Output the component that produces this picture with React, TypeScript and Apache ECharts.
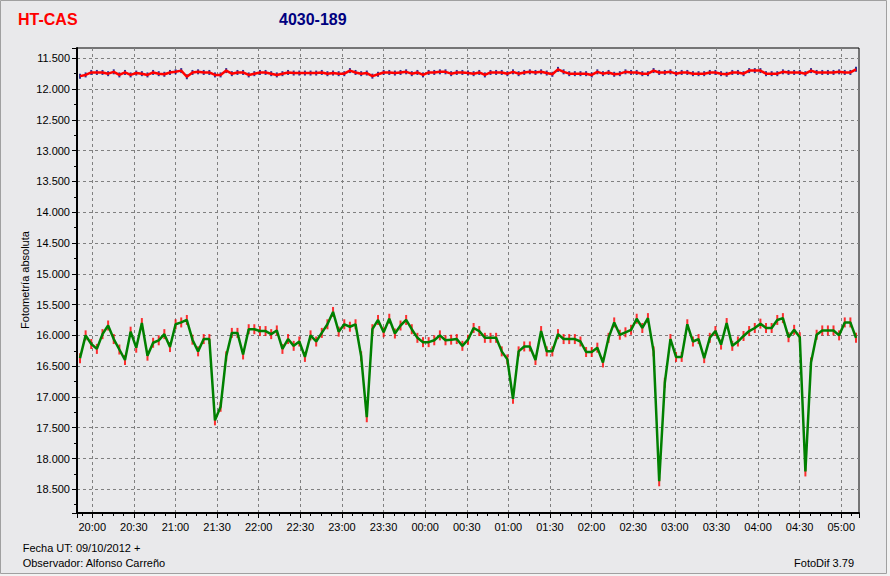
import React, { useEffect, useRef } from "react";
import * as echarts from "echarts";

// Comparison star (upper, red line with navy points) – magnitudes
const comparison: number[] = [
  11.79, 11.77, 11.73, 11.73, 11.73, 11.75, 11.72, 11.77, 11.73, 11.77,
  11.74, 11.75, 11.77, 11.73, 11.75, 11.76, 11.73, 11.72, 11.70, 11.80,
  11.73, 11.72, 11.73, 11.73, 11.77, 11.77, 11.70, 11.75, 11.73, 11.73,
  11.77, 11.75, 11.73, 11.73, 11.75, 11.77, 11.75, 11.73, 11.74, 11.74,
  11.74, 11.74, 11.74, 11.73, 11.75, 11.74, 11.75, 11.75, 11.70, 11.73,
  11.75,
  11.74, 11.79, 11.76, 11.73, 11.73, 11.74, 11.73, 11.72, 11.75, 11.73,
  11.77, 11.73, 11.73, 11.72, 11.72, 11.75, 11.73, 11.73, 11.74,
  11.75, 11.73, 11.77, 11.73, 11.73, 11.73, 11.75, 11.72, 11.75, 11.73,
  11.72, 11.73, 11.72, 11.74, 11.76, 11.68, 11.72, 11.75, 11.75, 11.75,
  11.75, 11.77, 11.72, 11.75, 11.73, 11.76, 11.75, 11.72, 11.73, 11.73,
  11.75, 11.75, 11.70, 11.73, 11.73, 11.72, 11.75, 11.73, 11.73, 11.75,
  11.75, 11.75, 11.73, 11.73, 11.75, 11.76, 11.73, 11.73, 11.75, 11.70,
  11.70, 11.70, 11.75, 11.75, 11.75, 11.72, 11.73, 11.73, 11.73, 11.75,
  11.70, 11.73, 11.73, 11.73, 11.73, 11.72, 11.73, 11.73, 11.68,
];

// Variable star HT-CAS (lower, green line with red error bars) – magnitudes
const variable: number[] = [
  16.37, 16.00, 16.14, 16.22, 15.98, 15.84, 16.06, 16.23, 16.40, 15.94,
  16.20, 15.80, 16.33, 16.12, 16.08, 15.98, 16.19, 15.82, 15.79, 15.75,
  16.07, 16.26, 16.06, 16.06, 17.38, 17.16, 16.34, 15.96, 15.96, 16.31,
  15.90, 15.90, 15.93, 15.93, 15.98, 15.92, 16.22, 16.06, 16.17, 16.10,
  16.35, 16.00, 16.10, 15.96, 15.82, 15.62, 15.94, 15.82, 15.86, 15.82,
  16.34,
  17.33, 15.90, 15.75, 15.95, 15.73, 15.97, 15.84, 15.75, 15.90, 16.04,
  16.11, 16.11, 16.08, 16.00, 16.08, 16.07, 16.06, 16.17, 16.07, 15.88,
  15.93, 16.04, 16.04, 16.04, 16.26, 16.39, 17.03, 16.26, 16.18, 16.18,
  16.40, 15.93, 16.26, 16.26, 15.98, 16.06, 16.06, 16.06, 16.10, 16.27,
  16.27, 16.20,
  16.44, 16.04, 15.79, 15.99, 15.95, 15.91, 15.73, 15.88, 15.72, 16.26,
  18.37, 16.77, 16.06, 16.35, 16.35, 15.82, 16.10, 16.06, 16.37, 16.04,
  15.93, 16.15, 15.80, 16.17, 16.10, 16.01, 15.93, 15.88, 15.81, 15.88,
  15.88, 15.75, 15.72, 16.03, 15.91, 16.03, 18.21, 16.44, 15.99, 15.92,
  15.92, 15.92, 16.00, 15.79, 15.79, 16.04,
];

const timeLabels: string[] = [
  "20:00", "20:30", "21:00", "21:30", "22:00", "22:30", "23:00", "23:30",
  "00:00", "00:30", "01:00", "01:30", "02:00", "02:30", "03:00", "03:30",
  "04:00", "04:30", "05:00",
];

const FONT = '"Liberation Sans", Arial, sans-serif';

export default function App() {
  const ref = useRef<HTMLDivElement>(null);

  useEffect(() => {
    if (!ref.current) return;
    const chart = echarts.init(ref.current, undefined, { renderer: "svg" });

    // axis extents (minutes relative to 20:00, magnitudes)
    const xMin = -11.0;
    const xMax = 552.8;
    const yMin = 11.333;
    const yMax = 18.885;

    const idx = variable.map((_, i) => String(i));

    const isMult = (v: number, step: number) =>
      Math.abs(v / step - Math.round(v / step)) < 1e-6;

    const dashed = { color: "#808080", width: 1, type: [3, 3] as number[] };

    const option: any = {
      animation: false,
      backgroundColor: "#f2f2f2",
      grid: [
        {
          left: 77, right: 31, top: 48, bottom: 63,
          show: true, backgroundColor: "#e9e9eb",
          borderColor: "#000", borderWidth: 1,
          outerBoundsMode: "none", containLabel: false,
        },
        {
          left: 80, right: 34, top: 48, bottom: 63,
          outerBoundsMode: "none", containLabel: false,
        },
      ],
      xAxis: [
        {
          gridIndex: 0, type: "value", position: "bottom",
          min: xMin, max: xMax, minInterval: 30, maxInterval: 30,
          axisLine: { show: true, onZero: false, lineStyle: { color: "#000", width: 2 } },
          axisTick: { show: true, length: 5, lineStyle: { color: "#000", width: 1 } },
          axisLabel: {
            show: true, margin: 8, color: "#000", fontFamily: FONT, fontSize: 11,
            showMinLabel: true, showMaxLabel: true, hideOverlap: false,
            formatter: (v: number) => {
              if (!isMult(v, 30)) return "";
              const k = Math.round(v / 30);
              return timeLabels[k] ?? "";
            },
          },
          splitLine: { show: true, showMinLine: false, showMaxLine: false, lineStyle: dashed },
        },
        {
          gridIndex: 0, type: "value", position: "bottom",
          min: xMin, max: xMax, minInterval: 7.5, maxInterval: 7.5,
          axisLine: { show: false, onZero: false },
          axisTick: { show: true, length: 3, lineStyle: { color: "#000", width: 1 } },
          axisLabel: { show: false },
          splitLine: { show: false },
        },
        {
          gridIndex: 1, type: "category", data: idx, boundaryGap: false, show: false,
        },
      ],
      yAxis: [
        {
          gridIndex: 0, type: "value", position: "left", inverse: true,
          min: yMin, max: yMax, minInterval: 0.5, maxInterval: 0.5,
          axisLine: { show: true, onZero: false, lineStyle: { color: "#000", width: 2 } },
          axisTick: { show: true, length: 5, lineStyle: { color: "#000", width: 1 } },
          axisLabel: {
            show: true, margin: 7, color: "#000", fontFamily: FONT, fontSize: 11,
            showMinLabel: true, showMaxLabel: true, hideOverlap: false,
            formatter: (v: number) => (isMult(v, 0.5) ? v.toFixed(3) : ""),
          },
          splitLine: { show: true, showMinLine: false, showMaxLine: false, lineStyle: dashed },
        },
        {
          gridIndex: 0, type: "value", position: "left", inverse: true,
          min: yMin, max: yMax, minInterval: 0.25, maxInterval: 0.25,
          axisLine: { show: false, onZero: false },
          axisTick: { show: true, length: 3, lineStyle: { color: "#000", width: 1 } },
          axisLabel: { show: false },
          splitLine: { show: false },
        },
        {
          gridIndex: 1, type: "value", inverse: true, min: yMin, max: yMax, show: false,
          splitLine: { show: false },
        },
      ],
      series: [
        {
          type: "scatter", xAxisIndex: 2, yAxisIndex: 2, data: variable,
          symbol: "rect", symbolSize: [2, 10], itemStyle: { color: "#ff0000" },
          z: 2, silent: true,
        },
        {
          type: "line", xAxisIndex: 2, yAxisIndex: 2, data: variable,
          showSymbol: false, symbol: "none",
          lineStyle: { color: "#008000", width: 2.5 }, z: 3, silent: true,
        },
        {
          type: "scatter", xAxisIndex: 2, yAxisIndex: 2, data: comparison,
          symbol: "rect", symbolSize: [2, 5], itemStyle: { color: "#000080" },
          z: 2, silent: true,
        },
        {
          type: "line", xAxisIndex: 2, yAxisIndex: 2, data: comparison,
          showSymbol: false, symbol: "none",
          lineStyle: { color: "#ff0000", width: 2.5 }, z: 3, silent: true,
        },
      ],
      graphic: [
        {
          type: "rect", z: -10, silent: true,
          shape: { x: 0.5, y: 0.5, width: 886, height: 573 },
          style: { fill: "#e9e9eb", stroke: "#a0a0a0", lineWidth: 1 },
        },
        {
          type: "text", x: 18, y: 19.5, silent: true,
          style: {
            text: "HT-CAS", fill: "#ff0000", font: `bold 16px ${FONT}`,
            align: "left", verticalAlign: "middle",
            textAlign: "left", textVerticalAlign: "middle",
          },
        },
        {
          type: "text", x: 279, y: 19.5, silent: true,
          style: {
            text: "4030-189", fill: "#000080", font: `bold 16px ${FONT}`,
            align: "left", verticalAlign: "middle",
            textAlign: "left", textVerticalAlign: "middle",
          },
        },
        {
          type: "text", x: 24.5, y: 280, rotation: Math.PI / 2, silent: true,
          style: {
            text: "Fotometría absoluta", fill: "#000", font: `11px ${FONT}`,
            align: "center", verticalAlign: "middle",
            textAlign: "center", textVerticalAlign: "middle",
          },
        },
        {
          type: "text", x: 22.7, y: 548.3, silent: true,
          style: {
            text: "Fecha UT: 09/10/2012 +", fill: "#000", font: `11px ${FONT}`,
            align: "left", verticalAlign: "middle",
            textAlign: "left", textVerticalAlign: "middle",
          },
        },
        {
          type: "text", x: 22.7, y: 563.3, silent: true,
          style: {
            text: "Observador: Alfonso Carreño", fill: "#000", font: `11px ${FONT}`,
            align: "left", verticalAlign: "middle",
            textAlign: "left", textVerticalAlign: "middle",
          },
        },
        {
          type: "text", x: 854, y: 563.3, silent: true,
          style: {
            text: "FotoDif 3.79", fill: "#000", font: `11px ${FONT}`,
            align: "right", verticalAlign: "middle",
            textAlign: "right", textVerticalAlign: "middle",
          },
        },
      ],
    };

    chart.setOption(option);
    return () => chart.dispose();
  }, []);

  return (
    <div
      ref={ref}
      style={{ position: "absolute", left: 0, top: 0, width: 890, height: 576 }}
    />
  );
}
